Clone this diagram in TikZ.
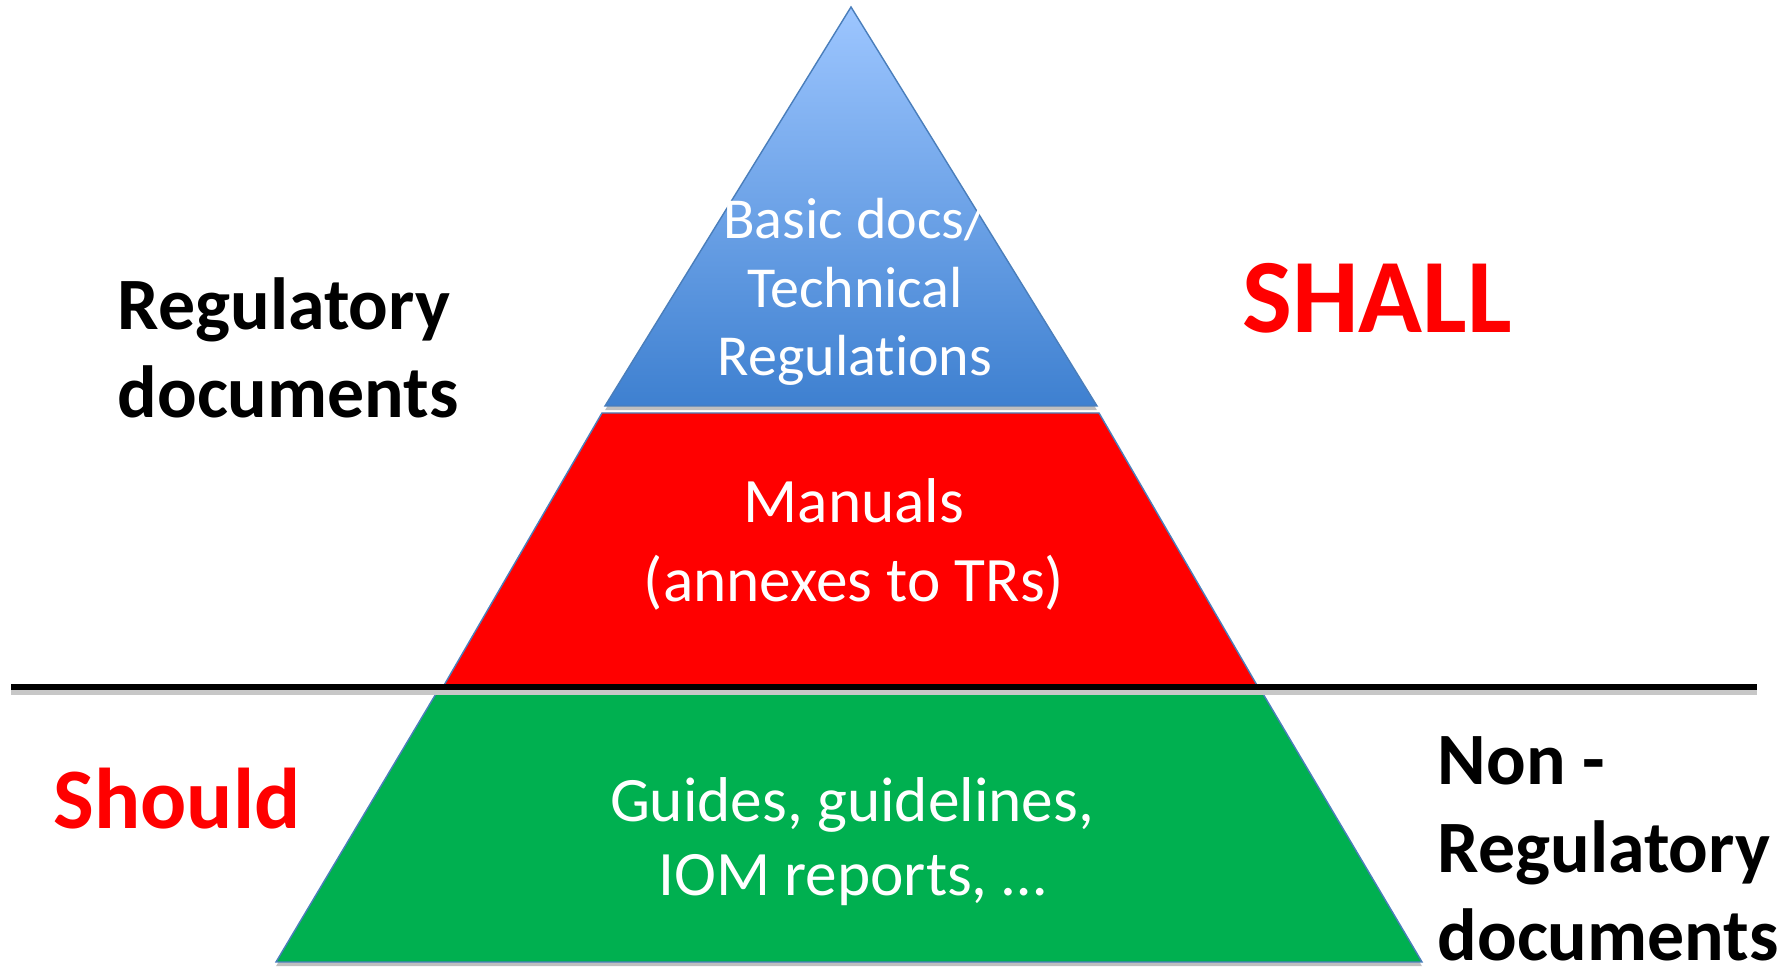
\documentclass[tikz,border=0pt]{standalone}
\usepackage{fontspec}
\setmainfont{Carlito}[Ligatures=NoCommon]
\usetikzlibrary{shadows}

\definecolor{skytop}{RGB}{157,198,255}
\definecolor{skybot}{RGB}{62,128,208}
\definecolor{bandedge}{RGB}{74,126,187}
\definecolor{mustred}{RGB}{255,0,0}
\definecolor{guidegreen}{RGB}{0,176,80}

\tikzset{
  band/.style={draw=bandedge, line width=0.4pt,
    drop shadow={shadow xshift=0pt, shadow yshift=-1.2pt, fill=black, opacity=0.25}},
  bandtext/.style={text=white, align=center, inner sep=0pt},
  sidetext/.style={align=left, inner sep=0pt, anchor=west,
    font=\bfseries\fontsize{21}{25}\selectfont},
}

\begin{document}
\begin{tikzpicture}[x=0.01cm, y=-0.01cm]
  \useasboundingbox (0,0) rectangle (1785,968);

  % bands, bottom one first
  \draw[band, fill=guidegreen] (440,687) -- (1259,687) -- (1422,962) -- (276,962) -- cycle;
  \draw[band, fill=mustred] (602,413) -- (1099,413) -- (1258,687) -- (443,687) -- cycle;
  \draw[band, top color=skytop, bottom color=skybot] (851,7) -- (1097,406) -- (605,406) -- cycle;

  % dividing line
  \coordinate (split west) at (11,687);
  \coordinate (split east) at (1757,687);
  \draw[black!22, line width=1.4pt] ([yshift=-1.6pt]split west) -- ([yshift=-1.6pt]split east);
  \draw[line width=1.5pt] (split west) -- (split east);

  % band labels (kern keeps t and i apart)
  \node[bandtext, font=\fontsize{16.5}{19.5}\selectfont] (basic) at (855,292)
    {Basic docs/\\Technical\\Regulat\kern0pt ions};
  \node[bandtext, font=\fontsize{18}{22.5}\selectfont] (manuals) at (854,544)
    {Manuals\\(annexes to TRs)};
  \node[bandtext, font=\fontsize{18}{21}\selectfont] (guides) at (852,842)
    {Guides, guidelines,\\IOM reports, …};

  % side labels
  \node[sidetext] (regdocs) at (117,348) {Regulatory\\documents};
  \node[sidetext] (nonregdocs) at (1437,849) {Non -\\Regulatory\\documents};
  \node[text=mustred, inner sep=0pt, font=\bfseries\fontsize{30}{36}\selectfont] (shall) at (1377,298) {SHALL};
  \node[text=mustred, inner sep=0pt, font=\bfseries\fontsize{24.5}{29}\selectfont] (should) at (177,799) {Should};
\end{tikzpicture}
\end{document}
